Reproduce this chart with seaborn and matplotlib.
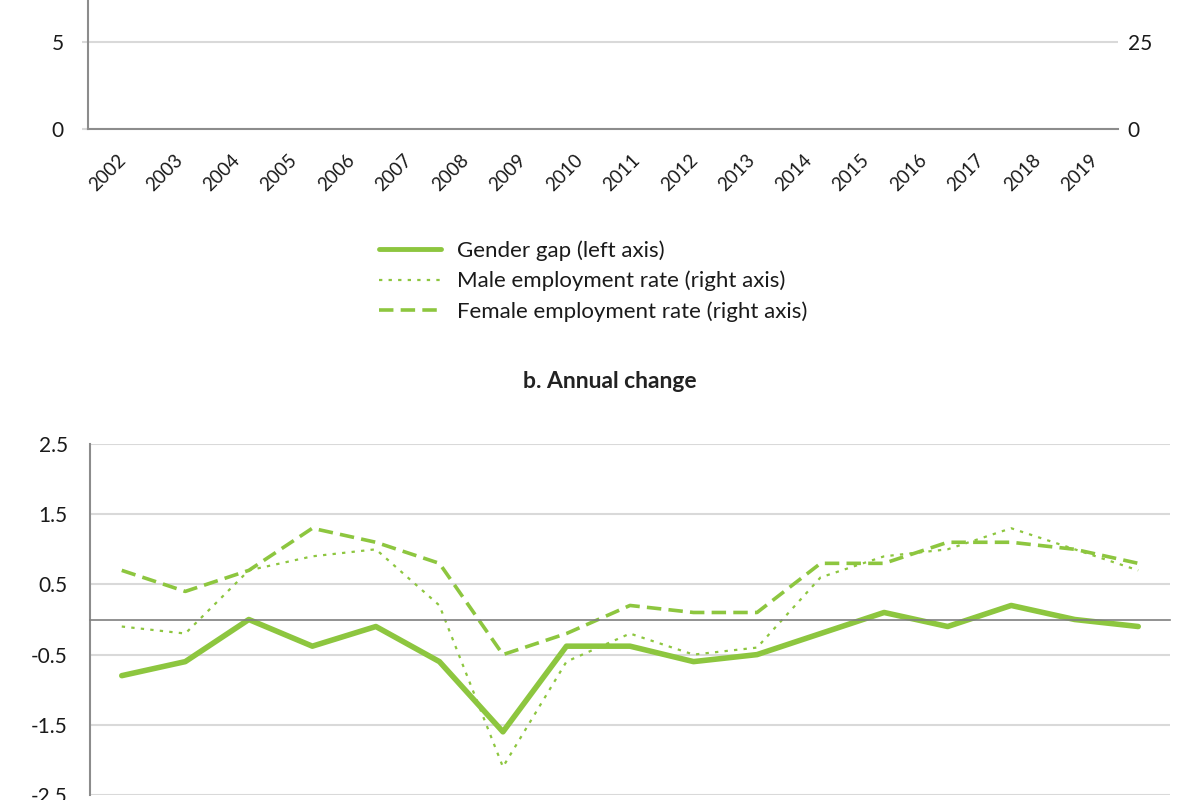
import seaborn as sns
import matplotlib.pyplot as plt
import pandas as pd
from matplotlib.lines import Line2D

# panel a: only the bottom of the axes is visible
years_a = list(range(2002, 2020))
left_ticks_a = [0, 5]
right_ticks_a = [0, 25]

# panel b: annual change, 2003-2019
years_b = list(range(2003, 2020))
gender_gap = [-0.8, -0.6, 0.0, -0.38, -0.1, -0.6, -1.6, -0.38, -0.38, -0.6, -0.5,
              -0.2, 0.1, -0.1, 0.2, 0.0, -0.1]
male_rate = [-0.1, -0.2, 0.7, 0.9, 1.0, 0.2, -2.1, -0.6, -0.2, -0.5, -0.4,
             0.6, 0.9, 1.0, 1.3, 1.0, 0.7]
female_rate = [0.7, 0.4, 0.7, 1.3, 1.1, 0.8, -0.5, -0.2, 0.2, 0.1, 0.1,
               0.8, 0.8, 1.1, 1.1, 1.0, 0.8]
yticks_b = [2.5, 1.5, 0.5, -0.5, -1.5, -2.5]

labels = ["Gender gap (left axis)", "Male employment rate (right axis)",
          "Female employment rate (right axis)"]

sns.set_style("white")
plt.rcParams['font.family'] = ['Lato', 'DejaVu Sans']
plt.rcParams['axes.unicode_minus'] = False

green = "#8DC63F"
grid_c = "#D9D9D9"
spine_c = "#8C8C8C"
text_c = "#1A1A1A"
styles = {"solid": dict(lw=3.0, linestyle="-"),
          "dot": dict(lw=1.6, linestyle=(0, (1.5, 2.8))),
          "dash": dict(lw=2.6, linestyle=(0, (4, 2)))}

fig = plt.figure(figsize=(12, 8), dpi=100)

# ---------- panel a (bottom part) ----------
ax_a = fig.add_axes([88 / 1200, 1 - 129 / 800, 1030 / 1200, 129 / 800])
ax_a.set_xlim(years_a[0] - 0.5, years_a[-1] + 0.5)
ax_a.set_ylim(0, 5 * 129 / 87)
ax_a.set_yticks(left_ticks_a)
ax_a.set_xticks(years_a)
ax_a.set_xticklabels([str(y) for y in years_a], rotation=45, ha="right",
                     rotation_mode="anchor", fontsize=13.5, color=text_c)
ax_a.set_xticks([y + 0.5 for y in [years_a[0] - 1] + years_a], minor=True)
ax_a.tick_params(axis="x", which="major", length=0, pad=16)
ax_a.tick_params(axis="x", which="minor", length=6, color=grid_c, width=1.5)
ax_a.tick_params(axis="y", length=4.5, color=grid_c, width=1.5, labelsize=15,
                 pad=13, labelcolor=text_c)
ax_a.grid(axis="y", color=grid_c, lw=1.5)
ax_a.set_axisbelow(True)
for s in ["top", "right"]:
    ax_a.spines[s].set_visible(False)
for s in ["left", "bottom"]:
    ax_a.spines[s].set_color(spine_c)
    ax_a.spines[s].set_linewidth(1.5)

ax_a2 = ax_a.twinx()
ax_a2.set_ylim(0, 25 * 129 / 87)
ax_a2.set_yticks(right_ticks_a)
ax_a2.tick_params(axis="y", length=0, labelsize=15, pad=7, labelcolor=text_c)
for s in ax_a2.spines.values():
    s.set_visible(False)

# ---------- legend ----------
handles = [Line2D([], [], color=green, **styles[k]) for k in ["solid", "dot", "dash"]]
handles[0].set_linewidth(3.5)
fig.legend(handles, labels, loc="center left", bbox_to_anchor=(379 / 1200, 1 - 281 / 800),
           frameon=False, fontsize=16, handlelength=2.8, handletextpad=0.7,
           labelspacing=0.45, borderpad=0, borderaxespad=0, labelcolor=text_c)

fig.text(610 / 1200, 1 - 382 / 800, "b. Annual change", ha="center", va="center",
         fontsize=16.5, fontweight="bold", color="#222222")

# ---------- panel b ----------
df = pd.DataFrame({"year": years_b, "gap": gender_gap, "male": male_rate,
                   "female": female_rate})

ax_b = fig.add_axes([90 / 1200, 1 - 795 / 800, 1080 / 1200, 351 / 800])
sns.lineplot(data=df, x="year", y="male", color=green, ax=ax_b, **styles["dot"])
sns.lineplot(data=df, x="year", y="female", color=green, ax=ax_b, **styles["dash"])
sns.lineplot(data=df, x="year", y="gap", color=green, ax=ax_b, lw=4, linestyle="-")
ax_b.set_xlim(years_b[0] - 0.5, years_b[-1] + 0.5)
ax_b.set_ylim(-2.5, 2.5)
ax_b.set_yticks(yticks_b)
ax_b.set_yticklabels([f"{v:g}" for v in yticks_b])
ax_b.set_xlabel("")
ax_b.set_ylabel("")
ax_b.set_xticks([])
ax_b.set_xticks([y - 0.5 for y in years_b] + [years_b[-1] + 0.5], minor=True)
ax_b.tick_params(axis="x", which="minor", length=4, color=grid_c, width=1.2, direction="out")
ax_b.tick_params(axis="y", length=6, color=grid_c, width=1.5, labelsize=15, pad=10,
                 labelcolor=text_c)
ax_b.grid(axis="y", color=grid_c, lw=1.5)
ax_b.set_axisbelow(True)
ax_b.spines["bottom"].set_position(("data", 0))
ax_b.spines["bottom"].set_color("#7F7F7F")
ax_b.spines["bottom"].set_linewidth(1.2)
ax_b.spines["left"].set_color(spine_c)
ax_b.spines["left"].set_linewidth(1.5)
for s in ["top", "right"]:
    ax_b.spines[s].set_visible(False)

fig.savefig("out.png", dpi=100)
